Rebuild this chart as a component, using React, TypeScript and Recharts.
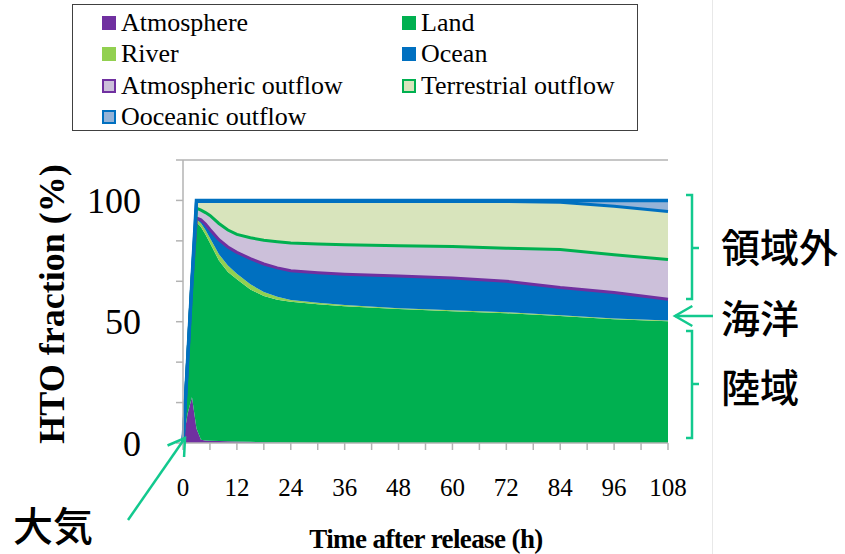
import React from 'react';
import { ComposedChart, Area, Line, XAxis, YAxis, ReferenceLine, Legend } from 'recharts';

// ---- data (hours after release, fraction in %) ----
const hours = [0, 1, 2, 3, 4, 5, 6, 8, 10, 12, 15, 18, 21, 24, 30, 36, 48, 60, 72, 84, 96, 108];
const atmosphere = [0, 12, 19, 6, 1.3, 1.0, 0.9, 0.8, 0.7, 0.6, 0.5, 0.3, 0.2, 0.1, 0, 0, 0, 0, 0, 0, 0, 0];
const land = [0, 21, 48, 85.0, 87.7, 85.0, 81.6, 74.4, 69.8, 66.9, 62.8, 60.3, 58.9, 58.1, 57.2, 56.4, 55.2, 54.3, 53.5, 52.4, 51.0, 50.2];
const river = [0, 0, 0, 1.2, 1.6, 1.8, 2.0, 2.6, 2.7, 2.3, 2.1, 1.6, 1.2, 0.8, 0.6, 0.5, 0.4, 0.4, 0.4, 0.3, 0.3, 0.3];
const ocean = [0, 0, 0, 0.6, 1.4, 2.5, 3.5, 6.0, 7.6, 8.8, 10.6, 11.6, 11.9, 12.0, 12.4, 12.7, 13.2, 13.3, 12.8, 11.4, 10.7, 8.8];
const atmosphericOutflow = [0, 0, 0, 4.0, 4.0, 4.7, 5.8, 6.7, 7.0, 7.4, 8.6, 9.8, 10.8, 11.5, 11.8, 12.1, 12.5, 13.0, 13.6, 15.7, 15.6, 16.3];
const terrestrialOutflow = [0, 0, 0, 2.8, 3.6, 4.6, 5.8, 9.1, 11.8, 13.6, 15.0, 16.0, 16.6, 17.1, 17.6, 17.9, 18.3, 18.6, 19.3, 19.4, 20.0, 19.8];
const oceanicOutflow = [0, 0, 0, 0.4, 0.4, 0.4, 0.4, 0.4, 0.4, 0.4, 0.4, 0.4, 0.4, 0.4, 0.4, 0.4, 0.4, 0.4, 0.4, 0.8, 2.4, 4.6];

const xTicks = [0, 6, 12, 18, 24, 30, 36, 42, 48, 54, 60, 66, 72, 78, 84, 90, 96, 102, 108];
const xTickLabels = ['0', '', '12', '', '24', '', '36', '', '48', '', '60', '', '72', '', '84', '', '96', '', '108'];
const yTicks = [0, 50 / 3, 100 / 3, 50, 200 / 3, 250 / 3, 100, 350 / 3];
const yTickLabels = ['0', '', '', '50', '', '', '100', ''];

const seriesNames = ['Atmosphere', 'Land', 'River', 'Ocean', 'Atmospheric outflow', 'Terrestrial outflow', 'Ooceanic outflow'];

const data = hours.map((t, i) => {
  const oceanTop = atmosphere[i] + land[i] + river[i] + ocean[i];
  const aoTop = oceanTop + atmosphericOutflow[i];
  const toTop = aoTop + terrestrialOutflow[i];
  const total = toTop + oceanicOutflow[i];
  return {
    t,
    atmosphere: atmosphere[i],
    land: land[i],
    river: river[i],
    ocean: ocean[i],
    ao: atmosphericOutflow[i],
    to: terrestrialOutflow[i],
    oo: oceanicOutflow[i],
    oceanTop,
    aoTop,
    toTop,
    total,
  };
});

const SERIF = '"Liberation Serif", "Times New Roman", serif';
const CJK = '"Noto Sans CJK JP", "Noto Sans CJK SC", sans-serif';
const AXIS = '#B3B3B3';
const TEAL = '#12C98E';

const legendItems = [
  { name: seriesNames[0], fill: '#7030A0', border: '#7030A0', col: 0, row: 0 },
  { name: seriesNames[1], fill: '#00B050', border: '#00B050', col: 1, row: 0 },
  { name: seriesNames[2], fill: '#92D050', border: '#92D050', col: 0, row: 1 },
  { name: seriesNames[3], fill: '#0070C0', border: '#0070C0', col: 1, row: 1 },
  { name: seriesNames[4], fill: '#CCC0DA', border: '#7030A0', col: 0, row: 2 },
  { name: seriesNames[5], fill: '#D8E4BC', border: '#00B050', col: 1, row: 2 },
  { name: seriesNames[6], fill: '#95B3D7', border: '#0070C0', col: 0, row: 3 },
];

const renderLegend = () => (
  <div
    style={{
      position: 'relative',
      width: 566,
      height: 127,
      boxSizing: 'border-box',
      border: '1.5px solid #404040',
      background: '#fff',
      fontFamily: SERIF,
      fontSize: 26,
      color: '#000',
    }}
  >
    {legendItems.map((it) => {
      const left = it.col === 0 ? 29 : 329;
      const cy = 17.5 + it.row * 31.5;
      return (
        <div key={it.name}>
          <div
            style={{
              position: 'absolute',
              left,
              top: cy - 7,
              width: 14,
              height: 14,
              boxSizing: 'border-box',
              background: it.fill,
              border: `2px solid ${it.border}`,
            }}
          />
          <div
            style={{
              position: 'absolute',
              left: left + 19,
              top: cy - 16,
              height: 32,
              lineHeight: '32px',
              whiteSpace: 'nowrap',
              fontFamily: SERIF,
            }}
          >
            {it.name}
          </div>
        </div>
      );
    })}
  </div>
);

const arrowHead = (x1: number, y1: number, x2: number, y2: number, len: number, ang: number) => {
  const dx = x1 - x2;
  const dy = y1 - y2;
  const d = Math.sqrt(dx * dx + dy * dy);
  const ux = dx / d;
  const uy = dy / d;
  const a = (ang * Math.PI) / 180;
  const p1 = [x2 + len * (ux * Math.cos(a) - uy * Math.sin(a)), y2 + len * (ux * Math.sin(a) + uy * Math.cos(a))];
  const p2 = [x2 + len * (ux * Math.cos(-a) - uy * Math.sin(-a)), y2 + len * (ux * Math.sin(-a) + uy * Math.cos(-a))];
  return `M${p1[0]},${p1[1]} L${x2},${y2} L${p2[0]},${p2[1]}`;
};

export default function App() {
  return (
    <div style={{ position: 'absolute', left: 0, top: 0, width: 845, height: 554, background: '#fff', overflow: 'hidden' }}>
      <ComposedChart width={845} height={554} data={data} margin={{ top: 160, right: 167, bottom: 71, left: 83 }}>
        <XAxis
          dataKey="t"
          type="number"
          domain={[0, 108]}
          ticks={xTicks}
          interval={0}
          height={40}
          tickSize={7}
          tickMargin={28}
          tickFormatter={(v: number, i: number) => xTickLabels[i] ?? ''}
          stroke={AXIS}
          axisLine={{ stroke: AXIS, strokeWidth: 1.5 }}
          tickLine={{ stroke: AXIS, strokeWidth: 1.5 }}
          tick={{ fontSize: 25, fill: '#000', fontFamily: SERIF }}
          label={() => (
            <text x={426} y={548} textAnchor="middle" fontFamily={SERIF} fontWeight="bold" fontSize={27} letterSpacing={-0.6} fill="#000">
              Time after release (h)
            </text>
          )}
        />
        <YAxis
          yAxisId="l"
          width={100}
          domain={[0, 350 / 3]}
          ticks={yTicks}
          interval={0}
          allowDataOverflow
          tickSize={7}
          tickMargin={35}
          tickFormatter={(v: number, i: number) => yTickLabels[i] ?? ''}
          axisLine={{ stroke: AXIS, strokeWidth: 1.5 }}
          tickLine={{ stroke: AXIS, strokeWidth: 1.5 }}
          tick={{ fontSize: 36, fill: '#000', fontFamily: SERIF }}
          label={() => (
            <text
              x={52}
              y={304}
              transform="rotate(-90 52 304)"
              textAnchor="middle"
              dominantBaseline="central"
              fontFamily={SERIF}
              fontWeight="bold"
              fontSize={36}
              fill="#000"
            >
              HTO fraction (%)
            </text>
          )}
        />
        <YAxis
          yAxisId="r"
          orientation="right"
          width={10}
          domain={[0, 350 / 3]}
          ticks={yTicks}
          interval={0}
          tickSize={3}
          tickFormatter={() => ''}
          axisLine={false}
          tickLine={{ stroke: AXIS, strokeWidth: 1.5 }}
        />
        <Legend
          layout="vertical"
          align="center"
          verticalAlign="middle"
          content={renderLegend}
          wrapperStyle={{ position: 'absolute', left: 72, top: 4, width: 566, height: 127 }}
        />
        <Area yAxisId="l" type="linear" dataKey="atmosphere" name={seriesNames[0]} stackId="s" fill="#7030A0" fillOpacity={1} stroke="none" isAnimationActive={false} />
        <Area yAxisId="l" type="linear" dataKey="land" name={seriesNames[1]} stackId="s" fill="#00B050" fillOpacity={1} stroke="none" isAnimationActive={false} />
        <Area yAxisId="l" type="linear" dataKey="river" name={seriesNames[2]} stackId="s" fill="#92D050" fillOpacity={1} stroke="none" isAnimationActive={false} />
        <Area yAxisId="l" type="linear" dataKey="ocean" name={seriesNames[3]} stackId="s" fill="#0070C0" fillOpacity={1} stroke="none" isAnimationActive={false} />
        <Area yAxisId="l" type="linear" dataKey="ao" name={seriesNames[4]} stackId="s" fill="#CCC0DA" fillOpacity={1} stroke="none" isAnimationActive={false} />
        <Area yAxisId="l" type="linear" dataKey="to" name={seriesNames[5]} stackId="s" fill="#D8E4BC" fillOpacity={1} stroke="none" isAnimationActive={false} />
        <Area yAxisId="l" type="linear" dataKey="oo" name={seriesNames[6]} stackId="s" fill="#95B3D7" fillOpacity={1} stroke="none" isAnimationActive={false} />
        <Line yAxisId="l" type="linear" dataKey="oceanTop" stroke="#7030A0" strokeWidth={3} dot={false} activeDot={false} legendType="none" isAnimationActive={false} />
        <Line yAxisId="l" type="linear" dataKey="aoTop" stroke="#00B050" strokeWidth={3} dot={false} activeDot={false} legendType="none" isAnimationActive={false} />
        <Line yAxisId="l" type="linear" dataKey="toTop" stroke="#0070C0" strokeWidth={3} dot={false} activeDot={false} legendType="none" isAnimationActive={false} />
        <Line yAxisId="l" type="linear" dataKey="total" stroke="#0070C0" strokeWidth={3.5} dot={false} activeDot={false} legendType="none" isAnimationActive={false} />
        <ReferenceLine yAxisId="l" y={350 / 3} stroke={AXIS} strokeWidth={1.5} ifOverflow="visible" />
      </ComposedChart>
      <svg width={845} height={554} style={{ position: 'absolute', left: 0, top: 0, pointerEvents: 'none' }}>
        <line x1={712.5} y1={0} x2={712.5} y2={554} stroke="#E8E8E8" strokeWidth={1} />
        <g stroke={TEAL} strokeWidth={2.5} fill="none">
          <path d="M686,195 L692,195 L692,299 L686,299 M692,248 L699,248" />
          <path d="M686,331 L692,331 L692,438 L686,438 M692,384 L699,384" />
          <path d="M713,316 L675,316" />
          <path d={arrowHead(713, 316, 675, 316, 20, 30)} />
          <path d="M128,520 L185,438" />
          <path d={arrowHead(128, 520, 185, 438, 19, 32)} />
        </g>
        <g fontFamily={CJK} fill="#000" fontSize={39} fontWeight={500}>
          <text x={721} y={245} dominantBaseline="central">領域外</text>
          <text x={721} y={316} dominantBaseline="central">海洋</text>
          <text x={721} y={385} dominantBaseline="central">陸域</text>
          <text x={13} y={524} dominantBaseline="central" fontSize={40}>大気</text>
        </g>
      </svg>
    </div>
  );
}
